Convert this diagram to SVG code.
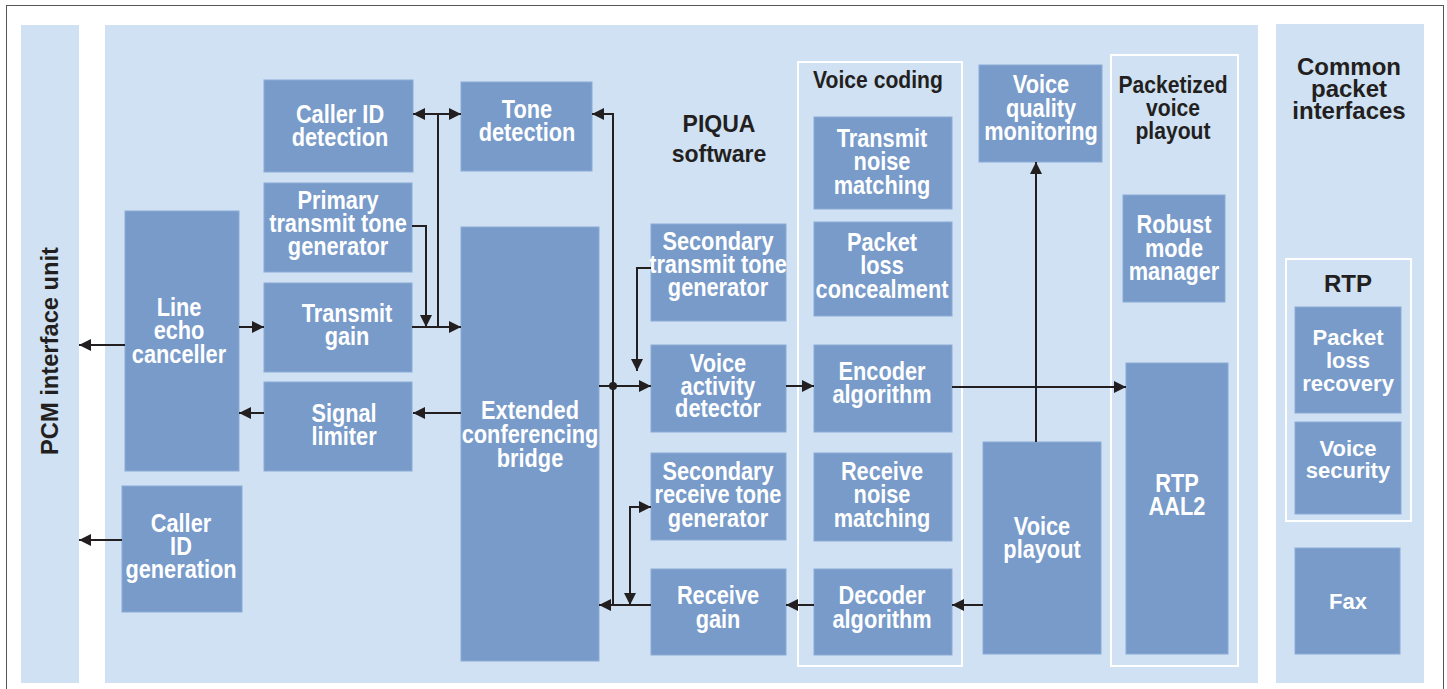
<svg xmlns="http://www.w3.org/2000/svg" width="1447" height="689" viewBox="0 0 1447 689">
<style>
.panel{fill:#cfe1f2}
.box{fill:#789bca;stroke:#8cabd6;stroke-width:1}
.frame{fill:none;stroke:#ffffff;stroke-width:2}
.t{fill:#ffffff;font-family:"Liberation Sans",Arial,sans-serif;font-weight:bold;font-size:25px;text-anchor:middle}
.d{fill:#231f20;font-family:"Liberation Sans",Arial,sans-serif;font-weight:bold;font-size:24px;text-anchor:middle}
.w{fill:#ffffff;font-family:"Liberation Sans",Arial,sans-serif;font-weight:bold;font-size:22px;text-anchor:middle}
.c{fill:none;stroke:#231f20;stroke-width:2}
</style>
<defs>
<marker id="ah" viewBox="0 0 12 12" refX="12" refY="6" markerWidth="12" markerHeight="12" markerUnits="userSpaceOnUse" orient="auto-start-reverse">
<path d="M0,0 L12,6 L0,12 z" fill="#231f20"/>
</marker>
</defs>
<rect x="6.5" y="5.5" width="1437" height="700" fill="#ffffff" stroke="#555555" stroke-width="1"/>

<g id="pcm-panel">
<rect class="panel" x="21" y="25" width="58" height="658"/>
<text class="d" font-size="25" transform="translate(58 351) rotate(-90)" x="0" y="0" textLength="208" lengthAdjust="spacingAndGlyphs">PCM interface unit</text>
</g>

<g id="main-panel">
<rect class="panel" x="105" y="25" width="1153" height="658"/>
<text class="d" font-size="27" transform="translate(719 0) scale(.96 1)"><tspan x="0" y="132">PIQUA</tspan><tspan x="0" y="162">software</tspan></text>
</g>

<g id="common-panel">
<rect class="panel" x="1276" y="24" width="148" height="659"/>
<text class="d" font-size="19.5"><tspan x="1349" y="75">Common</tspan><tspan x="1349" y="97">packet</tspan><tspan x="1349" y="119">interfaces</tspan></text>
</g>

<g id="rtp-frame">
<rect class="frame" x="1286" y="259" width="125" height="262"/>
<text class="d" font-size="20" x="1348" y="292">RTP</text>
</g>
<g id="packet-loss-recovery">
<rect class="box" x="1295" y="307" width="106" height="106"/>
<text class="w"><tspan x="1348" y="345">Packet</tspan><tspan x="1348" y="368">loss</tspan><tspan x="1348" y="391">recovery</tspan></text>
</g>
<g id="voice-security">
<rect class="box" x="1295" y="422" width="106" height="92"/>
<text class="w"><tspan x="1348" y="456">Voice</tspan><tspan x="1348" y="478">security</tspan></text>
</g>
<g id="fax">
<rect class="box" x="1295" y="548" width="105" height="106"/>
<text class="w" x="1348" y="609">Fax</text>
</g>

<g id="voice-coding-frame">
<rect class="frame" x="798" y="62" width="164" height="604"/>
<text class="d" transform="translate(878 0) scale(.88 1)" x="0" y="88">Voice coding</text>
</g>
<g id="packetized-frame">
<rect class="frame" x="1111" y="55" width="127" height="611"/>
<text class="d" transform="translate(1173 0) scale(.88 1)"><tspan x="0" y="93">Packetized</tspan><tspan x="0" y="116">voice</tspan><tspan x="0" y="139">playout</tspan></text>
</g>

<g id="caller-id-detection">
<rect class="box" x="264" y="80" width="149" height="92"/>
<text class="t" transform="translate(340 0) scale(.87 1)"><tspan x="0" y="123">Caller ID</tspan><tspan x="0" y="146">detection</tspan></text>
</g>
<g id="primary-transmit-tone-generator">
<rect class="box" x="264" y="183" width="148" height="89"/>
<text class="t" transform="translate(338 0) scale(.87 1)"><tspan x="0" y="209">Primary</tspan><tspan x="0" y="232">transmit tone</tspan><tspan x="0" y="255">generator</tspan></text>
</g>
<g id="transmit-gain">
<rect class="box" x="264" y="283" width="148" height="89"/>
<text class="t" transform="translate(347 0) scale(.87 1)"><tspan x="0" y="322">Transmit</tspan><tspan x="0" y="345">gain</tspan></text>
</g>
<g id="signal-limiter">
<rect class="box" x="264" y="382" width="148" height="89"/>
<text class="t" transform="translate(344 0) scale(.87 1)"><tspan x="0" y="422">Signal</tspan><tspan x="0" y="445">limiter</tspan></text>
</g>
<g id="line-echo-canceller">
<rect class="box" x="125" y="211" width="114" height="260"/>
<text class="t" transform="translate(179 0) scale(.87 1)"><tspan x="0" y="316">Line</tspan><tspan x="0" y="339">echo</tspan><tspan x="0" y="363">canceller</tspan></text>
</g>
<g id="caller-id-generation">
<rect class="box" x="122" y="486" width="120" height="126"/>
<text class="t" transform="translate(181 0) scale(.87 1)"><tspan x="0" y="532">Caller</tspan><tspan x="0" y="555">ID</tspan><tspan x="0" y="578">generation</tspan></text>
</g>
<g id="tone-detection">
<rect class="box" x="461" y="82" width="131" height="89"/>
<text class="t" transform="translate(527 0) scale(.87 1)"><tspan x="0" y="118">Tone</tspan><tspan x="0" y="141">detection</tspan></text>
</g>
<g id="extended-conferencing-bridge">
<rect class="box" x="461" y="227" width="138" height="434"/>
<text class="t" transform="translate(530 0) scale(.87 1)"><tspan x="0" y="419">Extended</tspan><tspan x="0" y="443">conferencing</tspan><tspan x="0" y="467">bridge</tspan></text>
</g>
<g id="secondary-transmit-tone-generator">
<rect class="box" x="651" y="224" width="135" height="97"/>
<text class="t" transform="translate(718 0) scale(.87 1)"><tspan x="0" y="250">Secondary</tspan><tspan x="0" y="273">transmit tone</tspan><tspan x="0" y="296">generator</tspan></text>
</g>
<g id="voice-activity-detector">
<rect class="box" x="651" y="345" width="135" height="87"/>
<text class="t" transform="translate(718 0) scale(.87 1)"><tspan x="0" y="372">Voice</tspan><tspan x="0" y="395">activity</tspan><tspan x="0" y="417">detector</tspan></text>
</g>
<g id="secondary-receive-tone-generator">
<rect class="box" x="651" y="453" width="135" height="87"/>
<text class="t" transform="translate(718 0) scale(.87 1)"><tspan x="0" y="480">Secondary</tspan><tspan x="0" y="503">receive tone</tspan><tspan x="0" y="527">generator</tspan></text>
</g>
<g id="receive-gain">
<rect class="box" x="651" y="569" width="135" height="86"/>
<text class="t" transform="translate(718 0) scale(.87 1)"><tspan x="0" y="604">Receive</tspan><tspan x="0" y="628">gain</tspan></text>
</g>
<g id="transmit-noise-matching">
<rect class="box" x="814" y="117" width="138" height="92"/>
<text class="t" transform="translate(882 0) scale(.87 1)"><tspan x="0" y="147">Transmit</tspan><tspan x="0" y="170">noise</tspan><tspan x="0" y="194">matching</tspan></text>
</g>
<g id="packet-loss-concealment">
<rect class="box" x="814" y="222" width="138" height="94"/>
<text class="t" transform="translate(882 0) scale(.87 1)"><tspan x="0" y="251">Packet</tspan><tspan x="0" y="274">loss</tspan><tspan x="0" y="298">concealment</tspan></text>
</g>
<g id="encoder-algorithm">
<rect class="box" x="814" y="345" width="138" height="87"/>
<text class="t" transform="translate(882 0) scale(.87 1)"><tspan x="0" y="380">Encoder</tspan><tspan x="0" y="403">algorithm</tspan></text>
</g>
<g id="receive-noise-matching">
<rect class="box" x="814" y="453" width="138" height="88"/>
<text class="t" transform="translate(882 0) scale(.87 1)"><tspan x="0" y="480">Receive</tspan><tspan x="0" y="503">noise</tspan><tspan x="0" y="527">matching</tspan></text>
</g>
<g id="decoder-algorithm">
<rect class="box" x="814" y="569" width="138" height="86"/>
<text class="t" transform="translate(882 0) scale(.87 1)"><tspan x="0" y="604">Decoder</tspan><tspan x="0" y="628">algorithm</tspan></text>
</g>
<g id="voice-quality-monitoring">
<rect class="box" x="979" y="65" width="123" height="97"/>
<text class="t" transform="translate(1041 0) scale(.87 1)"><tspan x="0" y="93">Voice</tspan><tspan x="0" y="117">quality</tspan><tspan x="0" y="140">monitoring</tspan></text>
</g>
<g id="voice-playout">
<rect class="box" x="983" y="442" width="118" height="212"/>
<text class="t" transform="translate(1042 0) scale(.87 1)"><tspan x="0" y="535">Voice</tspan><tspan x="0" y="558">playout</tspan></text>
</g>
<g id="robust-mode-manager">
<rect class="box" x="1123" y="195" width="102" height="107"/>
<text class="t" transform="translate(1174 0) scale(.87 1)"><tspan x="0" y="233">Robust</tspan><tspan x="0" y="257">mode</tspan><tspan x="0" y="280">manager</tspan></text>
</g>
<g id="rtp-aal2">
<rect class="box" x="1126" y="363" width="102" height="291"/>
<text class="t" transform="translate(1177 0) scale(.87 1)"><tspan x="0" y="492">RTP</tspan><tspan x="0" y="515">AAL2</tspan></text>
</g>

<g id="connectors">
<path class="c" d="M125,345 H79" marker-end="url(#ah)"/>
<path class="c" d="M122,540 H79" marker-end="url(#ah)"/>
<path class="c" d="M239,327 H264" marker-end="url(#ah)"/>
<path class="c" d="M264,413 H239" marker-end="url(#ah)"/>
<path class="c" d="M461,413 H413" marker-end="url(#ah)"/>
<path class="c" d="M413,114 H461" marker-start="url(#ah)" marker-end="url(#ah)"/>
<path class="c" d="M438,114 V327"/>
<path class="c" d="M412,327 H461" marker-end="url(#ah)"/>
<path class="c" d="M412,226 H426 V327" marker-end="url(#ah)"/>
<path class="c" d="M599,386 H651" marker-end="url(#ah)"/>
<path class="c" d="M613,605 V114 H592" marker-end="url(#ah)"/>
<path class="c" d="M651,605 H599" marker-end="url(#ah)"/>
<circle cx="613" cy="386" r="4" fill="#231f20"/>
<path class="c" d="M651,268 H637 V371" marker-end="url(#ah)"/>
<path class="c" d="M630,605 V507 H651" marker-start="url(#ah)" marker-end="url(#ah)"/>
<path class="c" d="M786,386 H814" marker-end="url(#ah)"/>
<path class="c" d="M952,387 H1126" marker-end="url(#ah)"/>
<path class="c" d="M1036,442 V162" marker-end="url(#ah)"/>
<path class="c" d="M983,605 H952" marker-end="url(#ah)"/>
<path class="c" d="M814,605 H786" marker-end="url(#ah)"/>
</g>
</svg>
